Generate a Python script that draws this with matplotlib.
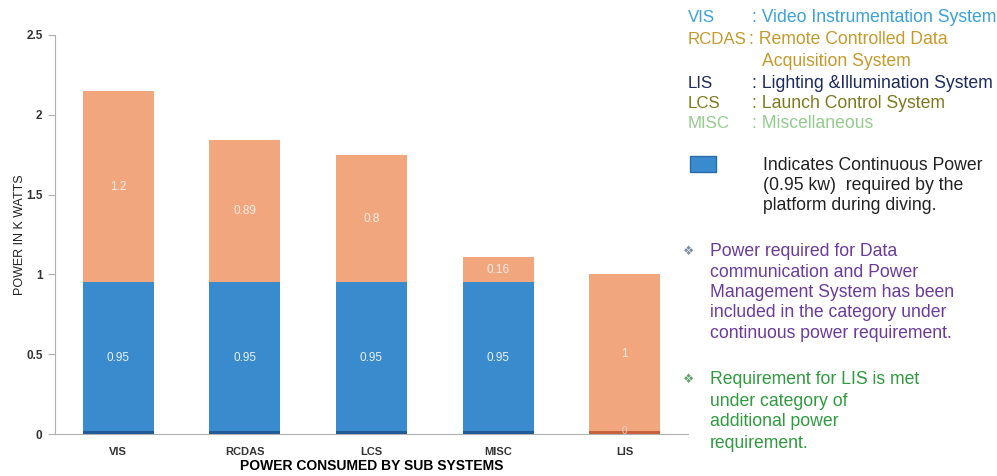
import numpy as np
import matplotlib
matplotlib.use('Agg')
import matplotlib.pyplot as plt

# Data
subsystems = ['VIS', 'RCDAS', 'LCS', 'MISC', 'LIS']
continuous = [0.95, 0.95, 0.95, 0.95, 0]
additional = [1.2, 0.89, 0.8, 0.16, 1]

legend_keys = ['VIS', 'RCDAS', '', 'LIS', 'LCS', 'MISC']
legend_desc = [': Video Instrumentation System', ': Remote Controlled Data',
               'Acquisition System', ': Lighting &Illumination System',
               ': Launch Control System', ': Miscellaneous']
legend_colors = ['#3aa2d8', '#c49a2c', '#c49a2c', '#1c2a5c', '#7d7a1e', '#93cc8e']

blue = '#3a8bcd'
orange = '#f1a67d'
dark_blue = '#1f5a96'
dark_orange = '#c8603c'

plt.rcParams['font.family'] = ['Liberation Sans', 'DejaVu Sans']

fig = plt.figure(figsize=(9.97, 4.76), dpi=100)
ax = fig.add_axes([0.0552, 0.0882, 0.6348, 0.8383])

x = np.arange(len(subsystems))
w = 0.56
ax.bar(x, continuous, w, color=blue)
ax.bar(x, additional, w, bottom=continuous, color=orange)

# thin dark strip at the foot of every bar
strip_colors = [dark_blue if c > 0 else dark_orange for c in continuous]
ax.bar(x, [0.018] * len(x), w, color=strip_colors)

for i in range(len(x)):
    if continuous[i] > 0:
        ax.text(x[i], continuous[i] / 2, str(continuous[i]), color='#e8f0f8',
                ha='center', va='center', fontsize=8.5)
    else:
        ax.text(x[i], 0.02, '0', color='#f0d0c0', ha='center', va='center', fontsize=7)
    ax.text(x[i], continuous[i] + additional[i] / 2, f'{additional[i]:g}', color='#fbeee6',
            ha='center', va='center', fontsize=8.5)

ax.set_xlim(-0.5, 4.5)
ax.set_ylim(0, 2.5)
ax.set_yticks([0, 0.5, 1, 1.5, 2, 2.5])
ax.set_yticklabels(['0', '0.5', '1', '1.5', '2', '2.5'], fontweight='bold', fontsize=8.5, color='#333333')
ax.set_xticks(x)
ax.set_xticklabels(subsystems, fontweight='bold', fontsize=8, color='#333333')
ax.tick_params(axis='x', length=0, pad=9)
ax.tick_params(axis='y', length=5, color='#b0b0b0', pad=4)
for s in ['top', 'right']:
    ax.spines[s].set_visible(False)
ax.spines['left'].set_color('#b0b0b0')
ax.spines['bottom'].set_color('#b0b0b0')
ax.set_ylabel('POWER IN K WATTS', fontsize=9, color='#222222', labelpad=0)
ax.set_xlabel('POWER CONSUMED BY SUB SYSTEMS', fontsize=10, fontweight='bold', labelpad=2)

# right hand notes, positions in pixels
def fig_text(px, py, s, **kw):
    fig.text(px / 997, 1 - py / 476, s, va='center', **kw)

fs = 12.7
key_y = [18, 40, 62, 83, 103, 123]
desc_x = [752, 749, 762, 752, 752, 752]
for k, d, c, yy, dx in zip(legend_keys, legend_desc, legend_colors, key_y, desc_x):
    if k:
        fig_text(688, yy, k, color=c, fontsize=12.2)
    fig_text(dx, yy, d, color=c, fontsize=fs)

fig.patches.append(plt.Rectangle((690 / 997, 1 - 172 / 476), 26 / 997, 16 / 476,
                                 transform=fig.transFigure, facecolor=blue, edgecolor='#2a6aa8'))
for i, line in enumerate(['Indicates Continuous Power', '(0.95 kw)  required by the',
                          'platform during diving.']):
    fig_text(763, 165 + 20 * i, line, color='#222222', fontsize=fs)

purple_lines = ['Power required for Data', 'communication and Power',
                'Management System has been', 'included in the category under',
                'continuous power requirement.']
green_lines = ['Requirement for LIS is met', 'under category of',
               'additional power', 'requirement.']
fig_text(683, 252, '\u2756', color='#7a8fa0', fontsize=9)
for i, line in enumerate(purple_lines):
    fig_text(710, 252 + 20.3 * i, line, color='#6b3a9c', fontsize=fs)
fig_text(683, 380, '\u2756', color='#6aa070', fontsize=9)
for i, line in enumerate(green_lines):
    fig_text(710, 380 + 21 * i, line, color='#2f9a3e', fontsize=fs)

fig.savefig('out.png', dpi=100)
